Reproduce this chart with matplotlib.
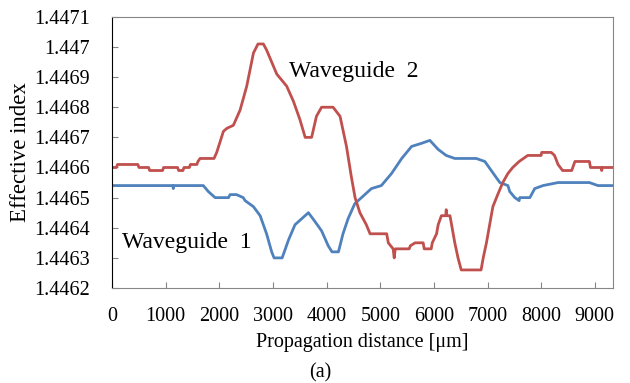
import numpy as np
import matplotlib
matplotlib.use('Agg')
import matplotlib.pyplot as plt
from matplotlib.ticker import FuncFormatter, MultipleLocator

plt.rcParams['font.family'] = ['Liberation Serif', 'DejaVu Serif']

# Waveguide 2 (red)
x_wg2 = [0, 80, 100, 480, 500, 680, 700, 940, 960, 1220, 1240, 1320, 1340, 1440, 1460,
         1580, 1600, 1640, 1900, 1950, 2075, 2140, 2260, 2385, 2510, 2635, 2720, 2820,
         2880, 3070, 3255, 3380, 3500, 3600, 3720, 3810, 3905, 4120, 4250, 4370, 4460,
         4530, 4620, 4740, 4810, 5120, 5150, 5240, 5260, 5280, 5540, 5560, 5650, 5800,
         5820, 5950, 5970, 6050, 6080, 6140, 6220, 6230, 6240, 6300, 6330, 6390, 6450,
         6510, 6880, 6920, 6980, 7040, 7100, 7190, 7285, 7380, 7470, 7590, 7750, 8000,
         8010, 8190, 8250, 8315, 8400, 8570, 8630, 8900, 8920, 9120, 9130, 9140, 9340]
n_wg2 = [1.44660, 1.44660, 1.44661, 1.44661, 1.44660, 1.44660, 1.44659, 1.44659, 1.44660,
         1.44660, 1.44659, 1.44659, 1.44660, 1.44660, 1.44661, 1.44661, 1.44662, 1.44663,
         1.44663, 1.44665, 1.44672, 1.44673, 1.44674, 1.44679, 1.44687, 1.44698, 1.44701,
         1.44701, 1.44699, 1.44691, 1.44687, 1.44682, 1.44676, 1.44670, 1.44670, 1.44677,
         1.44680, 1.44680, 1.44677, 1.44667, 1.44657, 1.44650, 1.44645, 1.44641, 1.44638,
         1.44638, 1.44635, 1.44633, 1.44630, 1.44633, 1.44633, 1.44634, 1.44635, 1.44635,
         1.44633, 1.44633, 1.44635, 1.44638, 1.44641, 1.44644, 1.44644, 1.44646, 1.44644,
         1.44644, 1.44641, 1.44635, 1.44630, 1.44626, 1.44626, 1.44630, 1.44635, 1.44641,
         1.44647, 1.44651, 1.44655, 1.44658, 1.44660, 1.44662, 1.44664, 1.44664, 1.44665,
         1.44665, 1.44664, 1.44661, 1.44659, 1.44659, 1.44662, 1.44662, 1.44660, 1.44660,
         1.44659, 1.44660, 1.44660]

# Waveguide 1 (blue)
x_wg1 = [0, 1130, 1140, 1150, 1700, 1795, 1920, 2170, 2200, 2320, 2445, 2480, 2635, 2760,
         2880, 2975, 3020, 3170, 3290, 3410, 3535, 3660, 3785, 3905, 4030, 4100, 4220, 4305,
         4400, 4525, 4650, 4835, 5020, 5210, 5400, 5585, 5765, 5925, 6080, 6230, 6390, 6790,
         6950, 7070, 7230, 7380, 7415, 7510, 7590, 7600, 7790, 7880, 8035, 8315, 8900, 9060,
         9340]
n_wg1 = [1.44654, 1.44654, 1.44653, 1.44654, 1.44654, 1.44652, 1.44650, 1.44650, 1.44651,
         1.44651, 1.44650, 1.44649, 1.44647, 1.44644, 1.44638, 1.44632, 1.44630, 1.44630,
         1.44636, 1.44641, 1.44643, 1.44645, 1.44642, 1.44639, 1.44634, 1.44632, 1.44632,
         1.44638, 1.44643, 1.44648, 1.44650, 1.44653, 1.44654, 1.44658, 1.44663, 1.44667,
         1.44668, 1.44669, 1.44666, 1.44664, 1.44663, 1.44663, 1.44662, 1.44659, 1.44655,
         1.44654, 1.44652, 1.44650, 1.44649, 1.44650, 1.44650, 1.44653, 1.44654, 1.44655,
         1.44655, 1.44654, 1.44654]

fig = plt.figure(figsize=(6.3, 3.83), dpi=100)
ax = fig.add_axes([0.178, 0.248, 0.795, 0.708])

ax.plot(x_wg1, n_wg1, color='#4F81BD', lw=2.0)
ax.plot(x_wg2, n_wg2, color='#C0504D', lw=2.0)

ax.set_xlim(0, 9340)
ax.set_ylim(1.4462, 1.4471)
ax.xaxis.set_major_locator(MultipleLocator(1000))
ax.yaxis.set_major_locator(MultipleLocator(0.0001))
ax.yaxis.set_major_formatter(FuncFormatter(lambda v, p: f"{v:.4f}".rstrip('0')))

ax.tick_params(direction='in', labelsize=14.5, color='#868686', length=4)
ax.tick_params(axis='x', pad=14)
ax.tick_params(axis='y', pad=16)
for s in ['top', 'right', 'bottom']:
    ax.spines[s].set_color('#868686')
ax.spines['left'].set_color('black')

ax.text(3300, 1.44692, 'Waveguide  2', fontsize=17, va='center', ha='left')
ax.text(190, 1.44635, 'Waveguide  1', fontsize=17, va='center', ha='left')

ax.set_xlabel('Propagation distance [\u03bcm]', fontsize=14.5, labelpad=5)
ax.set_ylabel('Effective index', fontsize=16.5, labelpad=2)
fig.text(0.508, 0.026, '(a)', fontsize=14.5, ha='center', va='center')

plt.savefig('out.png', dpi=100)
